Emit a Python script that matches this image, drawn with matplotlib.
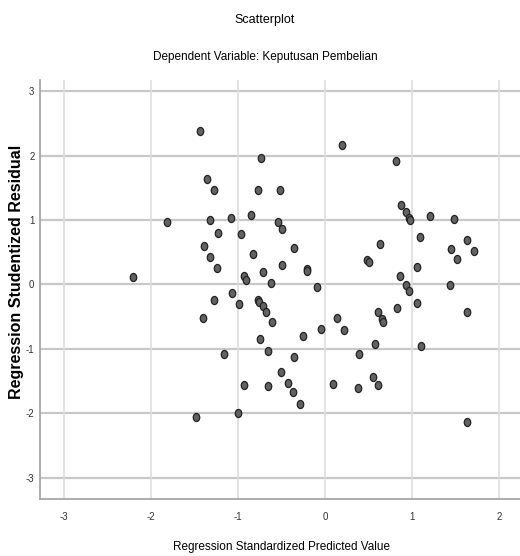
import numpy as np
import matplotlib
matplotlib.use("Agg")
import matplotlib.pyplot as plt
from matplotlib.path import Path
from matplotlib.transforms import Affine2D

# regression standardized predicted value (x) vs studentized residual (y)
pred = [-1.433, -1.353, -1.276, -1.816, -1.324, -1.086, -0.851, -1.230, -0.969, -1.391,
        -1.322, -1.244, -2.205, -0.929, -0.905, -1.066, -1.272, -0.989, -1.402, -1.157,
        -0.929, -1.003, -1.479, -0.736, 0.199, -0.770, -0.515, -0.544, -0.491, -0.353,
        -0.828, -0.493, -0.210, -0.203, -0.709, -0.621, -0.089, -0.767, -0.755, -0.716,
        -0.676, -0.606, 0.134, 0.218, -0.043, -0.253, -0.745, -0.661, -0.356, -0.511,
        -0.431, -0.366, -0.282, -0.661, 0.095, 0.816, 0.870, 0.928, 0.962, 0.980,
        1.210, 1.486, 1.095, 1.636, 1.709, 1.445, 1.514, 0.636, 0.486, 0.506,
        1.054, 0.866, 0.933, 0.968, 1.439, 1.054, 0.831, 1.629, 0.606, 0.657,
        0.670, 0.569, 1.100, 0.391, 0.554, 0.609, 0.374, 1.634]
resid = [2.376, 1.635, 1.473, 0.964, 1.000, 1.039, 1.085, 0.797, 0.778, 0.592,
         0.429, 0.254, 0.114, 0.137, 0.075, -0.137, -0.238, -0.308, -0.528, -1.081,
         -1.566, -1.988, -2.054, 1.968, 2.167, 1.473, 1.472, 0.977, 0.857, 0.561,
         0.471, 0.303, 0.246, 0.215, 0.199, 0.016, -0.032, -0.235, -0.269, -0.339,
         -0.424, -0.584, -0.514, -0.707, -0.693, -0.797, -0.840, -1.028, -1.133, -1.355,
         -1.531, -1.670, -1.863, -1.576, -1.552, 1.923, 1.241, 1.132, 1.039, 0.998,
         1.061, 1.023, 0.744, 0.693, 0.527, 0.548, 0.389, 0.626, 0.375, 0.347,
         0.277, 0.126, -0.010, -0.106, -0.009, -0.280, -0.365, -0.424, -0.429, -0.536,
         -0.575, -0.921, -0.955, -1.087, -1.430, -1.562, -1.611, -2.142]

xticks = [-3, -2, -1, 0, 1, 2]
yticks = [-3, -2, -1, 0, 1, 2, 3]

plt.rcParams['font.family'] = ['Liberation Sans', 'DejaVu Sans']

fig = plt.figure(figsize=(5.2, 5.56), dpi=100)
ax = fig.add_axes([40/520, 1 - 499/556, 480/520, 419/556])

# slightly tall ellipse marker like spss
ell = Path.unit_circle().transformed(Affine2D().scale(0.8, 1.0))
ax.scatter(pred, resid, marker=ell, s=34, facecolor='#626262', edgecolor='#222222',
           linewidths=0.9, zorder=3)

ax.set_xlim(-3.276, 2.241)
ax.set_ylim(-3.331, 3.175)
ax.set_xticks(xticks)
ax.set_yticks(yticks)
ax.set_xticklabels([str(t) for t in xticks], fontsize=7, color='#333333')
ax.set_yticklabels([str(t) for t in yticks], fontsize=7, color='#333333')
ax.tick_params(axis='x', length=0, pad=9)
ax.tick_params(axis='y', length=0, pad=4)

for t in yticks:
    ax.axhline(t, color='#c8c8c8', lw=1.6, zorder=1)
for t in xticks:
    ax.axvline(t, color='#dedede', lw=1.2, zorder=1)

for s in ['top', 'right']:
    ax.spines[s].set_visible(False)
for s in ['left', 'bottom']:
    ax.spines[s].set_color('#a0a0a0')
    ax.spines[s].set_linewidth(1.2)

fig.text(264.5/520, 1 - 20/556, 'Scatterplot', ha='center', va='center', fontsize=9)
fig.text(265/520, 1 - 57/556, 'Dependent Variable: Keputusan Pembelian', ha='center',
         va='center', fontsize=8.5)
fig.text(281.5/520, 1 - 547/556, 'Regression Standardized Predicted Value', ha='center',
         va='center', fontsize=8.5)
fig.text(17/520, 1 - 272/556, 'Regression Studentized Residual', ha='center',
         va='center', rotation=90, fontsize=11.5, fontweight='bold')

fig.savefig('out.png', dpi=100)
